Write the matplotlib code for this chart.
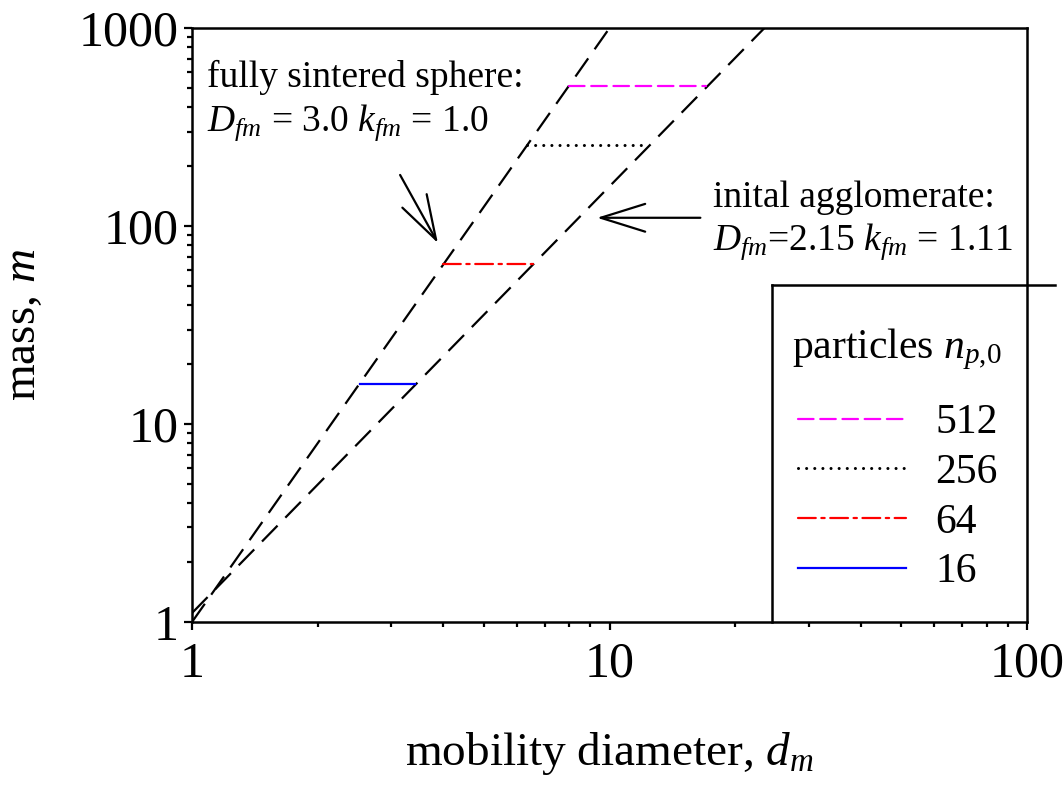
import numpy as np
import matplotlib
matplotlib.use('Agg')
import matplotlib.pyplot as plt
import matplotlib.ticker as mticker

plt.rcParams['font.family'] = ['Liberation Serif', 'DejaVu Serif']
plt.rcParams['mathtext.fontset'] = 'custom'
plt.rcParams['mathtext.rm'] = 'Liberation Serif'
plt.rcParams['mathtext.it'] = 'Liberation Serif:italic'

# reference lines (end points)
sphere_d = [1.0, 10.0]
sphere_m = [1.0, 1000.0]
agg_d = [1.0, 23.5]
agg_m = [1.11, 1000.0]

# horizontal segments, one per initial particle count
n_particles = ['512', '256', '64', '16']
seg_d_start = [8.0, 6.35, 4.0, 2.52]
seg_d_end = [17.0, 12.3, 6.55, 3.42]
seg_m = [512, 256, 64, 16]

seg_colors = ['#ff00ff', 'black', '#ff0000', '#0000ff']
seg_lw = [1.6, 2.2, 1.6, 1.6]
seg_dashes = [(7, 3), (0.01, 2.65), (8, 2.5, 1.5, 2.5), None]

fig = plt.figure(figsize=(10.64, 7.86), dpi=100)
ax = fig.add_axes([0.1805, 0.2087, 0.7848, 0.7557])

ax.plot(sphere_d, sphere_m, color='black', lw=1.6, dashes=(10, 5))
ax.plot(agg_d, agg_m, color='black', lw=1.6, dashes=(10, 5))

for lab, d0, d1, m, c, w, ds in zip(n_particles, seg_d_start, seg_d_end, seg_m,
                                     seg_colors, seg_lw, seg_dashes):
    if ds is None:
        ax.plot([d0, d1], [m, m], color=c, lw=w, label=lab)
    else:
        ax.plot([d0, d1], [m, m], color=c, lw=w, dashes=ds, dash_capstyle='round', label=lab)

ax.set_xscale('log')
ax.set_yscale('log')
ax.set_xlim(1, 100)
ax.set_ylim(1, 1000)

fmt = mticker.FuncFormatter(lambda v, p: f'{v:g}')
ax.xaxis.set_major_formatter(fmt)
ax.yaxis.set_major_formatter(fmt)
ax.xaxis.set_minor_formatter(mticker.NullFormatter())
ax.yaxis.set_minor_formatter(mticker.NullFormatter())
ax.tick_params(which='both', direction='out', top=False, right=False, width=1.6, labelsize=36)
ax.tick_params(which='major', length=6)
ax.tick_params(which='minor', length=3.5)
ax.tick_params(axis='x', pad=8)
ax.tick_params(axis='y', pad=3.5)
for s in ax.spines.values():
    s.set_linewidth(1.8)

ax.set_xlabel(r'mobility diameter, $d_m$', fontsize=34)
ax.set_ylabel(r'mass, $m$', fontsize=34)
ax.xaxis.set_label_coords(0.5, -0.182)
ax.yaxis.set_label_coords(-0.176, 0.5)

ax.text(1.086, 504, 'fully sintered sphere:', fontsize=27, ha='left', va='baseline')
ax.text(1.086, 302, r'$D_{fm}$ = 3.0 $k_{fm}$ = 1.0', fontsize=27, ha='left', va='baseline')
ax.text(17.7, 125, 'inital agglomerate:', fontsize=27, ha='left', va='baseline')
ax.text(17.7, 75.6, r'$D_{fm}$=2.15 $k_{fm}$ = 1.11', fontsize=27, ha='left', va='baseline')

arrow = dict(arrowstyle='->,head_length=1.6,head_width=0.5', lw=1.6, color='black',
             shrinkA=0, shrinkB=0, mutation_scale=20)
ax.annotate('', xy=(3.88, 82), xytext=(3.15, 181), arrowprops=arrow)
ax.annotate('', xy=(9.33, 110), xytext=(16.5, 110), arrowprops=arrow)

# box around the legend (left and top edges only)
ax.plot([0.6946, 0.6946], [0, 0.567], transform=ax.transAxes, color='black', lw=1.8, clip_on=False)
ax.plot([0.6946, 1.0335], [0.567, 0.567], transform=ax.transAxes, color='black', lw=1.8, clip_on=False)

ax.text(0.7186, 0.459, r'particles $n_{\mathit{p{,}0}}$', transform=ax.transAxes,
        fontsize=30, ha='left', va='center')
leg = ax.legend(loc='center', bbox_to_anchor=(0.845, 0.2096), frameon=False, fontsize=30,
                handlelength=2.6, handletextpad=0.7, labelspacing=0.27)

fig.savefig('out.png', dpi=100)
